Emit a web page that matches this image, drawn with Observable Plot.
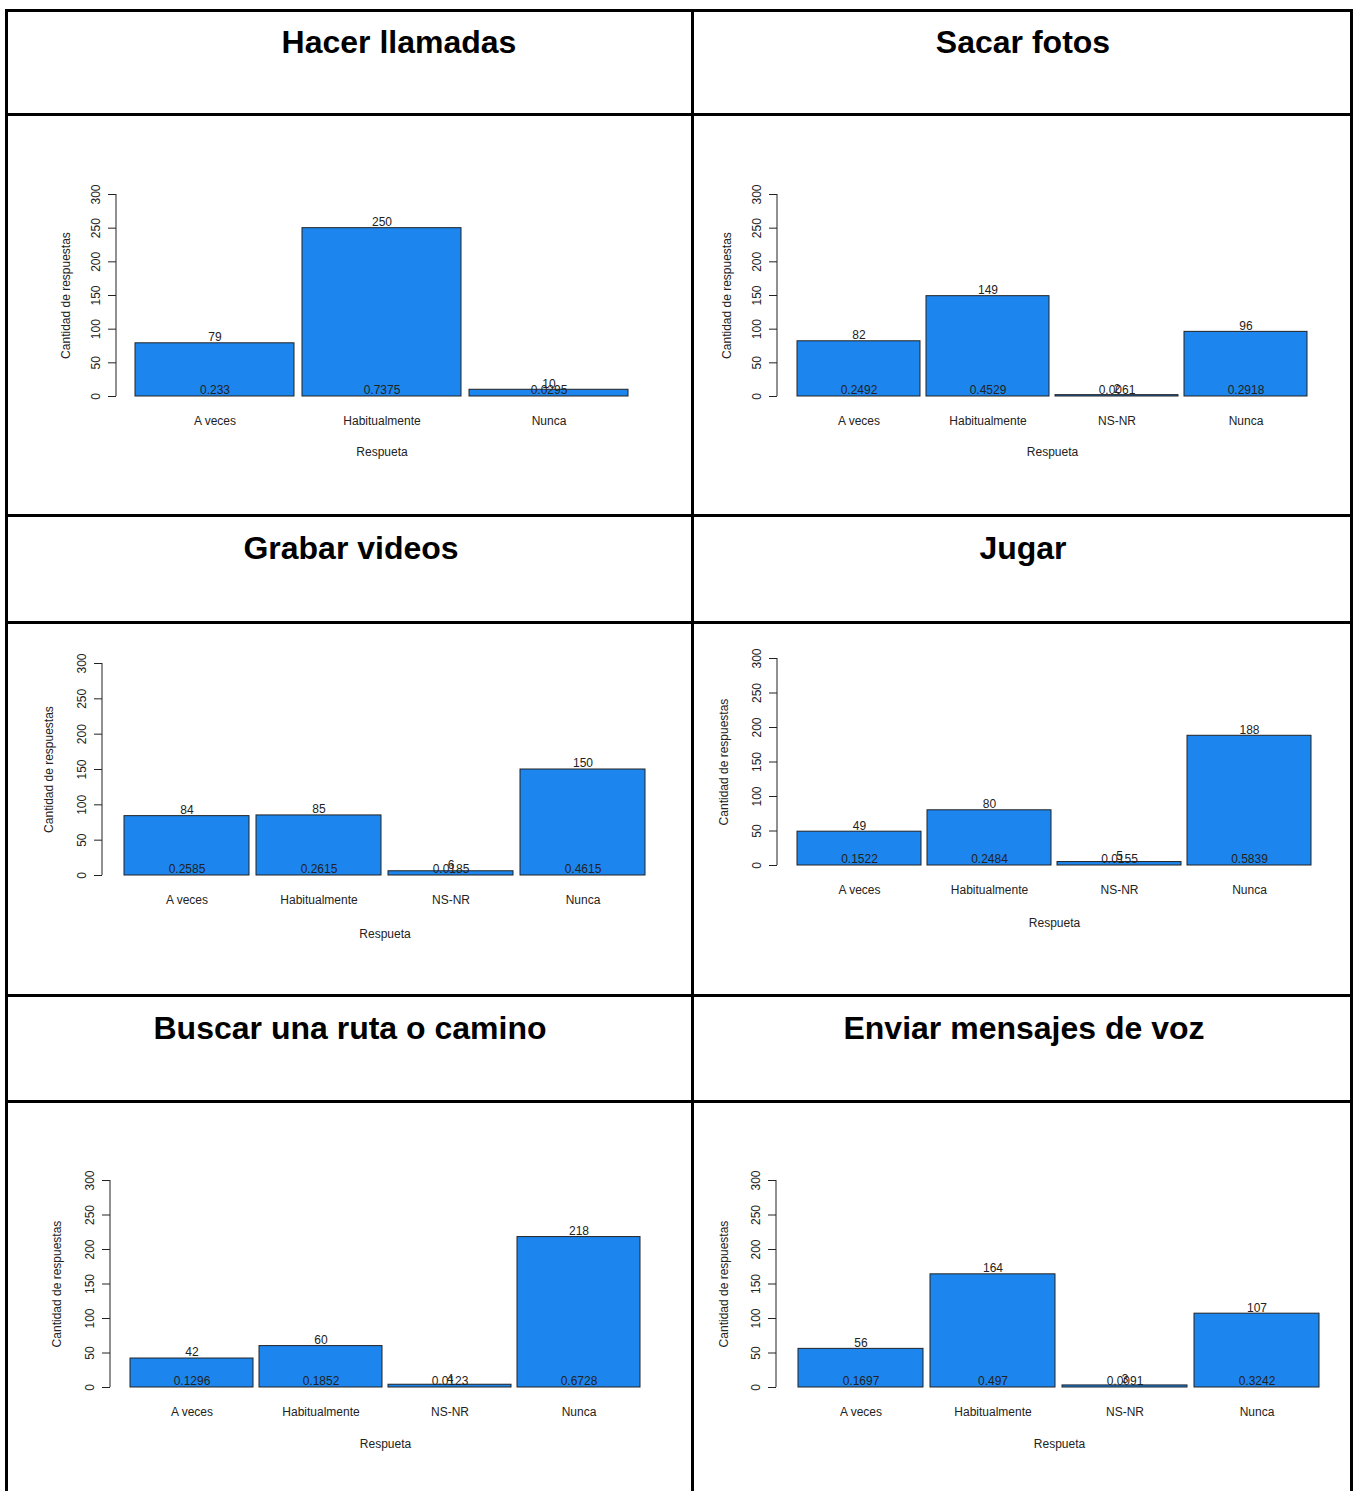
<!DOCTYPE html>
<html>
<head>
<meta charset="utf-8">
<script src="https://cdn.jsdelivr.net/npm/d3@7"></script>
<script src="https://cdn.jsdelivr.net/npm/@observablehq/plot@0.6"></script>
<style>
  html, body { margin: 0; padding: 0; background: #fff; }
  #page { position: relative; width: 1354px; height: 1491px; overflow: hidden; background: #fff; }
  .line { position: absolute; background: #000; }
  .title { position: absolute; font-family: "Liberation Sans", Arial, sans-serif; font-weight: bold; font-size: 32px; line-height: 36px; white-space: nowrap; transform: translateX(-50%); color: #000; }
  .chart { position: absolute; }
</style>
</head>
<body>
<div id="page"></div>
<script>
// ---------------- data ----------------
const titles = ["Hacer llamadas", "Sacar fotos", "Grabar videos", "Jugar", "Buscar una ruta o camino", "Enviar mensajes de voz"];
const categories3 = ["A veces", "Habitualmente", "Nunca"];
const categories4 = ["A veces", "Habitualmente", "NS-NR", "Nunca"];

const llamadasCounts = [79, 250, 10];
const llamadasProps = [0.233, 0.7375, 0.0295];
const fotosCounts = [82, 149, 2, 96];
const fotosProps = [0.2492, 0.4529, 0.0061, 0.2918];
const videosCounts = [84, 85, 6, 150];
const videosProps = [0.2585, 0.2615, 0.0185, 0.4615];
const jugarCounts = [49, 80, 5, 188];
const jugarProps = [0.1522, 0.2484, 0.0155, 0.5839];
const rutaCounts = [42, 60, 4, 218];
const rutaProps = [0.1296, 0.1852, 0.0123, 0.6728];
const vozCounts = [56, 164, 3, 107];
const vozProps = [0.1697, 0.497, 0.0091, 0.3242];

const yTicks = [0, 50, 100, 150, 200, 250, 300];
const yLabel = "Cantidad de respuestas";
const xLabel = "Respueta";

// ---------------- layout (page pixels) ----------------
const hLines = [9, 113, 514, 621, 994, 1100];
const vLines = [5, 691, 1350];
const titlePos = [
  {x: 399, y: 42}, {x: 1023, y: 42},
  {x: 351, y: 548}, {x: 1023, y: 548},
  {x: 350, y: 1028}, {x: 1024, y: 1028}
];
const layouts = [
  {left: 9, top: 117, width: 682, height: 396, axisX: 116, y0: 396, y300: 194, barStart: 135, barEnd: 628, yLabOff: 50, xLabOff: 59},
  {left: 695, top: 117, width: 655, height: 396, axisX: 777, y0: 396, y300: 194, barStart: 797, barEnd: 1307, yLabOff: 50, xLabOff: 59},
  {left: 9, top: 624, width: 682, height: 369, axisX: 102, y0: 875, y300: 663, barStart: 123, barEnd: 646, yLabOff: 53, xLabOff: 62},
  {left: 695, top: 624, width: 655, height: 369, axisX: 777, y0: 865, y300: 658, barStart: 796, barEnd: 1312, yLabOff: 53, xLabOff: 61},
  {left: 9, top: 1103, width: 682, height: 388, axisX: 110, y0: 1387, y300: 1180, barStart: 130, barEnd: 640, yLabOff: 53, xLabOff: 60},
  {left: 695, top: 1103, width: 655, height: 388, axisX: 776, y0: 1387, y300: 1180, barStart: 797, barEnd: 1321, yLabOff: 52, xLabOff: 60}
];

const series = [
  {cats: categories3, counts: llamadasCounts, props: llamadasProps},
  {cats: categories4, counts: fotosCounts, props: fotosProps},
  {cats: categories4, counts: videosCounts, props: videosProps},
  {cats: categories4, counts: jugarCounts, props: jugarProps},
  {cats: categories4, counts: rutaCounts, props: rutaProps},
  {cats: categories4, counts: vozCounts, props: vozProps}
];

const page = document.getElementById("page");

// table lines
hLines.forEach(y => {
  const d = document.createElement("div");
  d.className = "line";
  Object.assign(d.style, {left: vLines[0] + "px", top: y + "px", width: (vLines[2] + 3 - vLines[0]) + "px", height: "3px"});
  page.appendChild(d);
});
vLines.forEach(x => {
  const d = document.createElement("div");
  d.className = "line";
  Object.assign(d.style, {left: x + "px", top: hLines[0] + "px", width: "3px", height: (1491 - hLines[0]) + "px"});
  page.appendChild(d);
});

// titles
titles.forEach((t, i) => {
  const d = document.createElement("div");
  d.className = "title";
  d.textContent = t;
  Object.assign(d.style, {left: titlePos[i].x + "px", top: (titlePos[i].y - 18) + "px"});
  page.appendChild(d);
});

const FILL = "#1C86EE";
const INK = "#222";

series.forEach((s, i) => {
  const L = layouts[i];
  const data = s.cats.map((c, j) => ({cat: c, count: s.counts[j], prop: s.props[j]}));
  const inset = L.barStart - L.axisX;
  const axisLine = (index, scales, values, dims) => {
    const line = document.createElementNS("http://www.w3.org/2000/svg", "line");
    line.setAttribute("x1", dims.marginLeft);
    line.setAttribute("x2", dims.marginLeft);
    line.setAttribute("y1", scales.y(yTicks[0]));
    line.setAttribute("y2", scales.y(yTicks[yTicks.length - 1]));
    line.setAttribute("stroke", INK);
    line.setAttribute("stroke-width", 1);
    return line;
  };
  const chart = Plot.plot({
    width: L.width,
    height: L.height,
    marginLeft: L.axisX - L.left,
    marginRight: L.left + L.width - L.barEnd,
    marginTop: L.y300 - L.top,
    marginBottom: L.top + L.height - L.y0,
    style: {fontFamily: "'Liberation Sans', Arial, sans-serif", fontSize: "12px", color: INK, background: "transparent", overflow: "visible"},
    x: {domain: s.cats, paddingInner: 0.05, paddingOuter: 0, insetLeft: inset},
    y: {domain: [0, 300]},
    marks: [
      Plot.barY(data, {x: "cat", y: "count", fill: FILL, stroke: INK, strokeWidth: 1}),
      Plot.text(data, {x: "cat", y: "count", text: d => String(d.count), dy: -6, fill: INK}),
      Plot.text(data, {x: "cat", y: 0, text: d => String(d.prop), dy: -6, fill: INK}),
      Plot.axisY({ticks: yTicks, tickSize: 8, tickRotate: -90, tickPadding: 9, label: null}),
      axisLine,
      Plot.axisX({tickSize: 0, tickPadding: 20, label: null}),
      Plot.text([yLabel], {frameAnchor: "left", textAnchor: "middle", dx: -L.yLabOff, rotate: -90, fill: INK}),
      Plot.text([xLabel], {frameAnchor: "bottom", textAnchor: "middle", dx: inset / 2, dy: L.xLabOff, fill: INK})
    ]
  });
  const wrap = document.createElement("div");
  wrap.className = "chart";
  Object.assign(wrap.style, {left: L.left + "px", top: L.top + "px", width: L.width + "px", height: L.height + "px"});
  wrap.appendChild(chart);
  page.appendChild(wrap);
});
</script>
</body>
</html>
